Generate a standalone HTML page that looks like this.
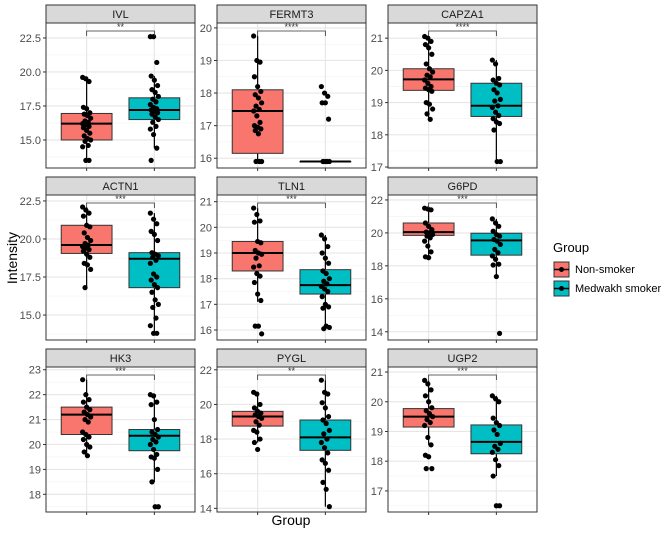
<!DOCTYPE html>
<html><head><meta charset="utf-8"><style>
body{margin:0;background:#fff;}
svg{display:block;font-family:"Liberation Sans",Arial,sans-serif;}
</style></head><body>
<svg id="chart" width="669" height="535" viewBox="0 0 669 535"></svg>
<script>
const genes=["IVL","FERMT3","CAPZA1","ACTN1","TLN1","G6PD","HK3","PYGL","UGP2"];
const sigLabels=["**","****","****","***","***","***","***","**","***"];
const yDomains=[[12.94,23.6],[15.7,20.15],[16.97,21.47],[13.36,22.89],[15.61,21.26],[13.5,22.3],[17.29,23.11],[13.79,22.16],[16.29,21.17]];
const yTicks=[[15,17.5,20,22.5],[16,17,18,19,20],[17,18,19,20,21],[15,17.5,20,22.5],[16,17,18,19,20,21],[14,16,18,20,22],[18,19,20,21,22,23],[14,16,18,20,22],[17,18,19,20,21]];
const yTickLabels=[["15.0","17.5","20.0","22.5"],["16","17","18","19","20"],["17","18","19","20","21"],["15.0","17.5","20.0","22.5"],["16","17","18","19","20","21"],["14","16","18","20","22"],["18","19","20","21","22","23"],["14","16","18","20","22"],["17","18","19","20","21"]];
// box stats: [whisker low, q1, median, q3, whisker high]
const nsBox=[[13.5,15.0,16.2,16.95,19.6],[15.9,16.15,17.45,18.1,19.75],[18.48,19.38,19.72,20.05,21.05],[16.8,19.05,19.6,20.9,22.1],[17.1,18.3,19.0,19.45,20.75],[18.5,19.85,20.05,20.6,21.5],[19.55,20.4,21.2,21.5,22.6],[17.8,18.75,19.3,19.6,20.7],[18.55,19.15,19.5,19.77,20.72]];
const smBox=[[14.4,16.5,17.2,18.1,19.7],[15.9,15.9,15.9,15.9,15.9],[17.17,18.57,18.9,19.6,20.32],[13.8,16.8,18.7,19.1,21.7],[16.05,17.4,17.75,18.35,19.7],[17.35,18.65,19.55,19.98,20.85],[18.5,19.75,20.35,20.6,22.0],[14.1,17.35,18.1,19.1,21.4],[17.5,18.25,18.65,19.22,20.2]];
const nsPoints=[
[19.6,19.5,19.3,17.4,17.3,17.0,16.9,16.8,16.6,16.4,16.3,16.2,16.1,16.0,15.9,15.7,15.5,15.3,15.1,15.0,14.9,14.6,14.5,13.5,13.5],
[19.75,19.0,18.95,18.5,18.2,18.05,17.95,17.85,17.7,17.6,17.5,17.45,17.3,17.1,17.0,16.95,16.9,16.85,16.75,15.9,15.9,15.9],
[21.05,21.0,20.9,20.8,20.7,20.5,20.2,20.05,19.95,19.85,19.8,19.7,19.6,19.5,19.45,19.4,19.35,19.0,18.95,18.8,18.65,18.48],
[22.1,21.9,21.7,21.5,20.9,20.8,20.4,20.1,19.9,19.7,19.6,19.5,19.4,19.3,19.2,19.0,18.8,18.4,18.3,18.0,16.8],
[20.75,20.5,20.25,20.2,19.45,19.4,19.1,19.0,18.95,18.8,18.5,18.45,18.2,18.1,17.85,17.4,17.15,16.15,16.15,15.85],
[21.5,21.45,21.4,20.6,20.4,20.2,20.05,20.0,19.9,19.8,19.7,19.5,19.2,18.85,18.55,18.5],
[22.6,22.0,21.8,21.7,21.5,21.4,21.3,21.2,21.1,21.0,20.9,20.5,20.4,20.3,20.2,20.0,19.9,19.7,19.55],
[20.7,20.6,20.0,19.8,19.6,19.5,19.4,19.3,19.2,19.0,18.8,18.5,18.4,18.0,17.8,17.4],
[20.72,20.6,20.4,20.2,20.0,19.8,19.7,19.6,19.5,19.4,19.3,19.2,18.8,18.55,18.2,18.15,17.75,17.75]];
const smPoints=[
[22.6,22.6,20.7,19.7,19.4,19.0,18.7,18.5,18.2,18.0,17.8,17.6,17.4,17.3,17.2,17.1,17.0,16.9,16.7,16.5,16.3,16.0,15.8,15.4,14.4,13.5],
[18.2,18.0,17.9,17.7,17.7,17.2,15.9,15.9,15.9,15.9,15.9],
[20.32,20.2,19.75,19.7,19.6,19.55,19.4,19.3,19.1,19.05,18.9,18.85,18.7,18.6,18.5,18.4,18.35,18.15,17.17,17.17],
[21.7,21.3,21.0,20.5,20.3,19.9,19.1,19.0,18.9,18.8,18.6,18.4,17.7,17.5,17.3,17.0,16.8,16.5,16.0,15.7,15.5,14.8,14.3,13.8,13.8],
[19.7,19.55,19.25,19.0,18.8,18.6,18.3,18.2,18.0,17.9,17.8,17.7,17.6,17.5,17.3,17.0,16.9,16.85,16.15,16.1,16.05],
[20.85,20.6,20.4,20.1,19.9,19.8,19.6,19.5,19.3,19.0,18.8,18.6,18.4,18.1,18.05,17.35,13.9],
[22.0,21.95,21.7,21.6,21.0,20.6,20.5,20.4,20.3,20.2,20.1,20.0,19.8,19.6,19.5,19.45,19.0,18.5,17.5,17.5],
[21.4,20.7,20.6,20.1,19.8,19.3,19.1,18.9,18.5,18.3,18.0,17.8,17.5,17.2,16.8,16.6,16.2,15.5,15.1,14.1],
[20.2,20.1,20.0,19.45,19.3,19.2,19.05,18.9,18.6,18.5,18.4,18.3,18.05,17.85,17.5,16.5,16.5]];
const groupColors=["#F8766D","#00BFC4"];

const NS="http://www.w3.org/2000/svg";
const svg=document.getElementById("chart");
function mk(tag,attrs,parent){const e=document.createElementNS(NS,tag);for(const k in attrs)e.setAttribute(k,attrs[k]);(parent||svg).appendChild(e);return e;}
const colX=[46,217,388], rowY=[5,177,349], PW=149, STRIP=18, PH=145;

genes.forEach((g,i)=>{
  const c=i%3,r=Math.floor(i/3);
  const x0=colX[c], top=rowY[r], y0=top+STRIP;
  const [d0,d1]=yDomains[i];
  const y=v=>y0+PH-(v-d0)/(d1-d0)*PH;
  const xs=[x0+PW*0.6/2.2, x0+PW*1.6/2.2];
  const grp=mk("g",{});
  
  
  mk("rect",{x:x0,y:y0,width:PW,height:PH,fill:"#fff"},grp);
  const cl="clip"+i;
  const cp=mk("clipPath",{id:cl},grp);mk("rect",{x:x0,y:y0,width:PW,height:PH},cp);
  const inner=mk("g",{"clip-path":"url(#"+cl+")"},grp);
  const t=yTicks[i],step=t[1]-t[0];
  for(let k=-1;k<t.length;k++){const v=t[0]+step*(k+0.5);mk("line",{x1:x0,x2:x0+PW,y1:y(v),y2:y(v),stroke:"#f2f2f2","stroke-width":0.6},inner);}
  t.forEach((v,k)=>{
    mk("line",{x1:x0,x2:x0+PW,y1:y(v),y2:y(v),stroke:"#e6e6e6","stroke-width":1.1},inner);
    mk("line",{x1:x0-3,x2:x0,y1:y(v),y2:y(v),stroke:"#333","stroke-width":1},grp);
    const tl=mk("text",{x:x0-5,y:y(v)+4,"text-anchor":"end","font-size":11,fill:"#4d4d4d"},grp);
    tl.textContent=yTickLabels[i][k];
    
    
  });
  xs.forEach(xx=>{
    mk("line",{x1:xx,x2:xx,y1:y0,y2:y0+PH,stroke:"#e6e6e6","stroke-width":1.1},inner);
    mk("line",{x1:xx,x2:xx,y1:y0+PH,y2:y0+PH+3,stroke:"#333","stroke-width":1},grp);
  });
  [nsBox[i],smBox[i]].forEach((b,gi)=>{
    const xx=xs[gi],bw=PW*0.75/2.2/2;
    const bg=mk("g",{},inner);
    
    
    mk("line",{x1:xx,x2:xx,y1:y(b[0]),y2:y(b[4]),stroke:"#000","stroke-width":1.2},bg);
    mk("rect",{x:xx-bw,y:y(b[3]),width:2*bw,height:Math.max(0.5,y(b[1])-y(b[3])),fill:groupColors[gi],stroke:"#333","stroke-width":1},bg);
    mk("line",{x1:xx-bw,x2:xx+bw,y1:y(b[2]),y2:y(b[2]),stroke:"#000","stroke-width":2},bg);
  });
  [nsPoints[i],smPoints[i]].forEach((pts,gi)=>{
    pts.forEach((v,k)=>{
      const jit=(((k*37)%11)-5)*0.8;
      const p=mk("circle",{cx:xs[gi]+jit,cy:y(v),r:2.6,fill:"#000"},inner);
      
      
    });
  });
  // significance bracket
  const by=y0+8;
  mk("path",{d:`M${xs[0]} ${by+5}V${by}H${xs[1]}V${by+5}`,fill:"none",stroke:"#333","stroke-width":0.8},grp);
  const s=mk("text",{x:(xs[0]+xs[1])/2,y:by-1,"text-anchor":"middle","font-size":9,fill:"#333"},grp);
  s.textContent=sigLabels[i];
  
  
  mk("rect",{x:x0,y:y0,width:PW,height:PH,fill:"none",stroke:"#333","stroke-width":1},grp);
  // strip
  mk("rect",{x:x0,y:top,width:PW,height:STRIP,fill:"#d9d9d9",stroke:"#333","stroke-width":1},grp);
  const st=mk("text",{x:x0+PW/2,y:top+13,"text-anchor":"middle","font-size":11,fill:"#1a1a1a"},grp);
  st.textContent=g;
  
  
});
</script>
<svg width="0" height="0"></svg>
<div style="position:absolute;left:0;top:0;width:669px;height:535px;pointer-events:none;">
<div style="position:absolute;left:-18px;top:250px;width:60px;text-align:center;font:14px 'Liberation Sans',sans-serif;transform:rotate(-90deg);">Intensity</div>
<div style="position:absolute;left:261px;top:512px;width:60px;text-align:center;font:14px 'Liberation Sans',sans-serif;">Group</div>
<div style="position:absolute;left:553px;top:240px;font:13px 'Liberation Sans',sans-serif;">
  <div style="margin-bottom:5px;">Group</div>
  <div style="display:flex;align-items:center;height:19px;font-size:11px;">
    <svg width="17" height="17" style="margin-right:5px"><rect x="1" y="1" width="15" height="15" fill="#F8766D" stroke="#333"/><line x1="1" x2="16" y1="8.5" y2="8.5" stroke="#000" stroke-width="1.5"/><circle cx="8.5" cy="8.5" r="2.5"/></svg>Non-smoker</div>
  <div style="display:flex;align-items:center;height:19px;font-size:11px;">
    <svg width="17" height="17" style="margin-right:5px"><rect x="1" y="1" width="15" height="15" fill="#00BFC4" stroke="#333"/><line x1="1" x2="16" y1="8.5" y2="8.5" stroke="#000" stroke-width="1.5"/><circle cx="8.5" cy="8.5" r="2.5"/></svg>Medwakh smoker</div>
</div>
</div>
</body></html>
